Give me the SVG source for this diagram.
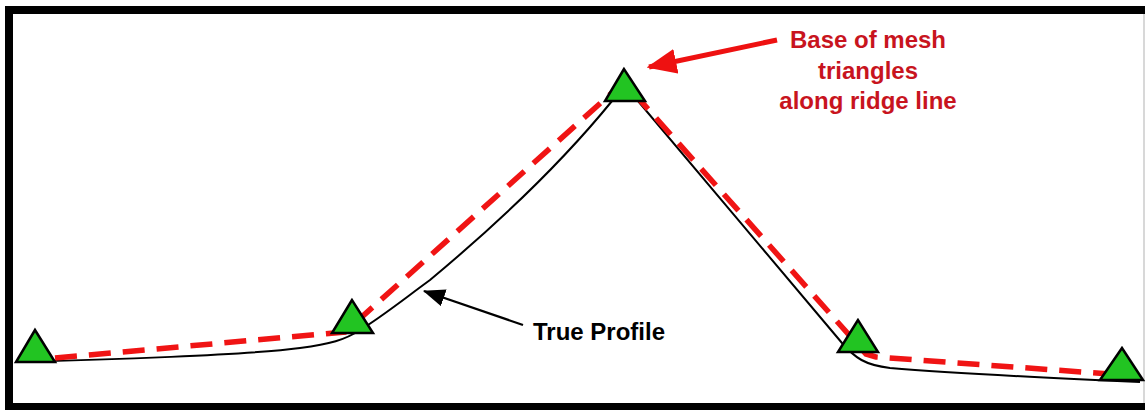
<svg xmlns="http://www.w3.org/2000/svg" width="1145" height="410" viewBox="0 0 1145 410">
  <defs>
    <style>
      .frame { fill: #000; }
      .tri { fill: #22c422; stroke: #000; stroke-width: 2.5; stroke-linejoin: miter; }
      .profile { fill: none; stroke: #000; stroke-width: 2; }
      .mesh { fill: none; stroke: #f01414; stroke-width: 5.5; stroke-dasharray: 22 12; }
      .lbl { font-family: "Liberation Sans", Arial, sans-serif; font-weight: bold; font-size: 24px; }
      .red { fill: #c8141e; }
    </style>
    <marker id="ahRed" markerWidth="6" markerHeight="5" refX="5.5" refY="2.5" orient="auto" markerUnits="strokeWidth">
      <path d="M0,0 L6,2.5 L0,5 Z" fill="#ee1111"/>
    </marker>
    <marker id="ahBlack" markerWidth="10" markerHeight="8" refX="9.5" refY="4" orient="auto" markerUnits="strokeWidth">
      <path d="M0,0 L10,4 L0,8 Z" fill="#000"/>
    </marker>
  </defs>
  <rect width="1145" height="410" fill="#fff"/>
  <g id="frame">
    <rect class="frame" x="5" y="6" width="1140" height="8"/>
    <rect class="frame" x="5" y="6" width="8" height="404"/>
    <rect class="frame" x="5" y="403" width="1140" height="7"/>
    <rect x="1143" y="14" width="2" height="389" fill="#d8d8d8"/>
  </g>
  <g id="connectors">
    <path id="true-profile" class="profile" d="M17,362 C100,360 250,355 300,348 C330,344 345,340 360,330 C380,318 400,302 430,280 C490,230 560,165 612,101 L622,88 L638,101 L842,343 C855,358 865,365 890,368 C950,373 1050,378 1140,382"/>
    <path id="mesh-line" class="mesh" d="M55,358 L345,332 L624,82 L866,354 L876,357 L1110,374"/>
    <line id="red-arrow" x1="777" y1="40" x2="649" y2="67" stroke="#ee1111" stroke-width="5" marker-end="url(#ahRed)"/>
    <line id="black-arrow" x1="523" y1="325" x2="424" y2="291" stroke="#000" stroke-width="2.2" marker-end="url(#ahBlack)"/>
  </g>
  <g id="node-1"><polygon class="tri" points="35,330 16,362 55,362"/></g>
  <g id="node-2"><polygon class="tri" points="352,300 332,333 373,333"/></g>
  <g id="node-3"><polygon class="tri" points="624,69 605,101 645,101"/></g>
  <g id="node-4"><polygon class="tri" points="858,320 838,352 878,352"/></g>
  <g id="node-5"><polygon class="tri" points="1122,348 1100,380 1143,380"/></g>
  <g id="label-mesh">
    <text class="lbl red" text-anchor="middle" x="868" y="48">Base of mesh</text>
    <text class="lbl red" text-anchor="middle" x="868" y="79">triangles</text>
    <text class="lbl red" text-anchor="middle" x="868" y="109">along ridge line</text>
  </g>
  <g id="label-profile">
    <text class="lbl" x="533" y="340" fill="#000">True Profile</text>
  </g>
</svg>
